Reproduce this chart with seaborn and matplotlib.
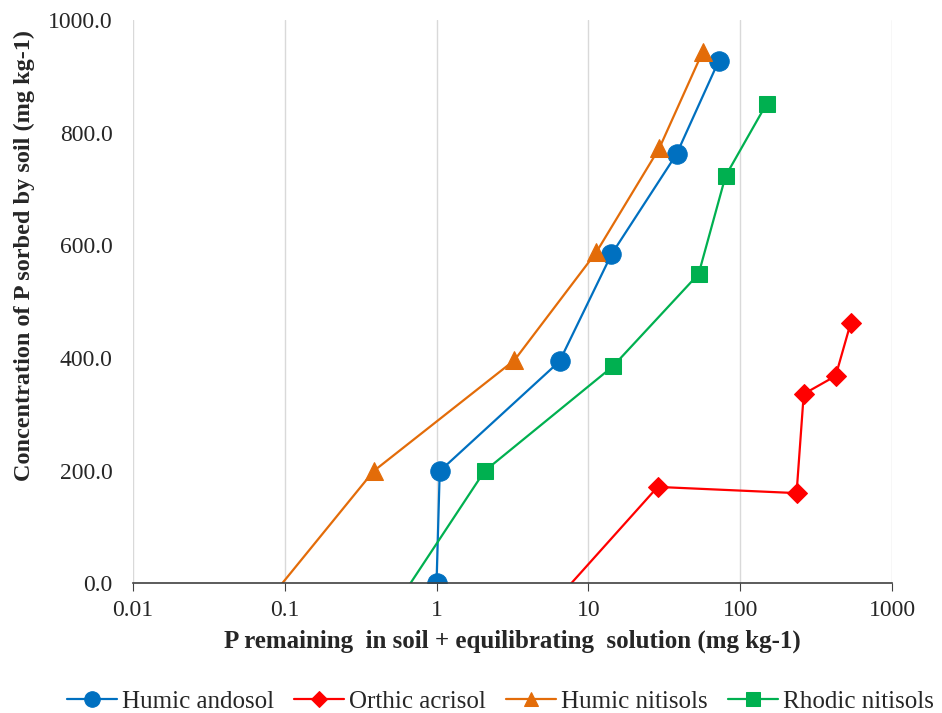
import pandas as pd
import numpy as np
import seaborn as sns
import matplotlib.pyplot as plt

# values (x: P remaining, y: P sorbed)
andosol_x = [1.0, 1.05, 6.46, 14.2, 38.1, 72.1]
andosol_y = [0.0, 199, 394, 584, 762, 927]

acrisol_x = [1.67, 28.6, 235, 262, 425, 534]
acrisol_y = [-200, 171, 160, 336, 368, 462]

humic_nit_x = [0.024, 0.385, 3.26, 11.3, 29.4, 56.5]
humic_nit_y = [-200, 199, 396, 588, 773, 943]

rhodic_nit_x = [0.218, 2.07, 14.5, 53.2, 80.1, 149]
rhodic_nit_y = [-200, 199, 385, 549, 723, 851]

series = [
    ('Humic andosol', andosol_x, andosol_y, 'o', '#0070C0', 14),
    ('Orthic acrisol', acrisol_x, acrisol_y, 'D', '#FF0000', 10),
    ('Humic nitisols', humic_nit_x, humic_nit_y, '^', '#E36C09', 13),
    ('Rhodic nitisols', rhodic_nit_x, rhodic_nit_y, 's', '#00B050', 12),
]

sns.set_style('white')
plt.rcParams['font.family'] = ['Liberation Serif', 'DejaVu Serif']

fig, ax = plt.subplots(figsize=(9.42, 7.13), dpi=100)
fig.subplots_adjust(left=0.141, right=0.947, top=0.972, bottom=0.182)

for name, xs, ys, mk, col, ms in series:
    df = pd.DataFrame({'x': xs, 'y': ys})
    sns.lineplot(data=df, x='x', y='y', sort=False, ax=ax, color=col,
                 marker=mk, markersize=ms, markeredgecolor=col,
                 linewidth=1.6, label=name)

ax.set_xscale('log')
ax.set_xlim(0.01, 1000)
ax.set_ylim(0, 1000)
ax.set_xticks([0.01, 0.1, 1, 10, 100, 1000])
ax.set_xticklabels(['0.01', '0.1', '1', '10', '100', '1000'])
ax.minorticks_off()
ax.set_yticks(np.arange(0, 1001, 200))
ax.set_yticklabels([f'{v:.1f}' for v in np.arange(0, 1001, 200)])
ax.xaxis.grid(True, color='#D9D9D9', linewidth=1)
ax.yaxis.grid(False)

for s in ['top', 'right', 'left']:
    ax.spines[s].set_visible(False)
ax.spines['bottom'].set_color('#404040')
ax.spines['bottom'].set_linewidth(1.2)
ax.tick_params(axis='x', bottom=True, length=6, color='#404040', labelsize=17, pad=6)
ax.tick_params(axis='y', left=False, labelsize=17, pad=11)

ax.set_xlabel('P remaining  in soil + equilibrating  solution (mg kg-1)',
              fontsize=18, fontweight='bold', labelpad=6)
ax.set_ylabel('Concentration of P sorbed by soil (mg kg-1)',
              fontsize=17.5, fontweight='bold')
ax.yaxis.set_label_coords(-0.129, 0.581)

ax.legend(loc='center', bbox_to_anchor=(0.484, -0.21), ncol=4, frameon=False,
          fontsize=18, handlelength=2.0, handletextpad=0.2, columnspacing=0.8,
          markerscale=0.8)

plt.savefig('out.png', dpi=100)
